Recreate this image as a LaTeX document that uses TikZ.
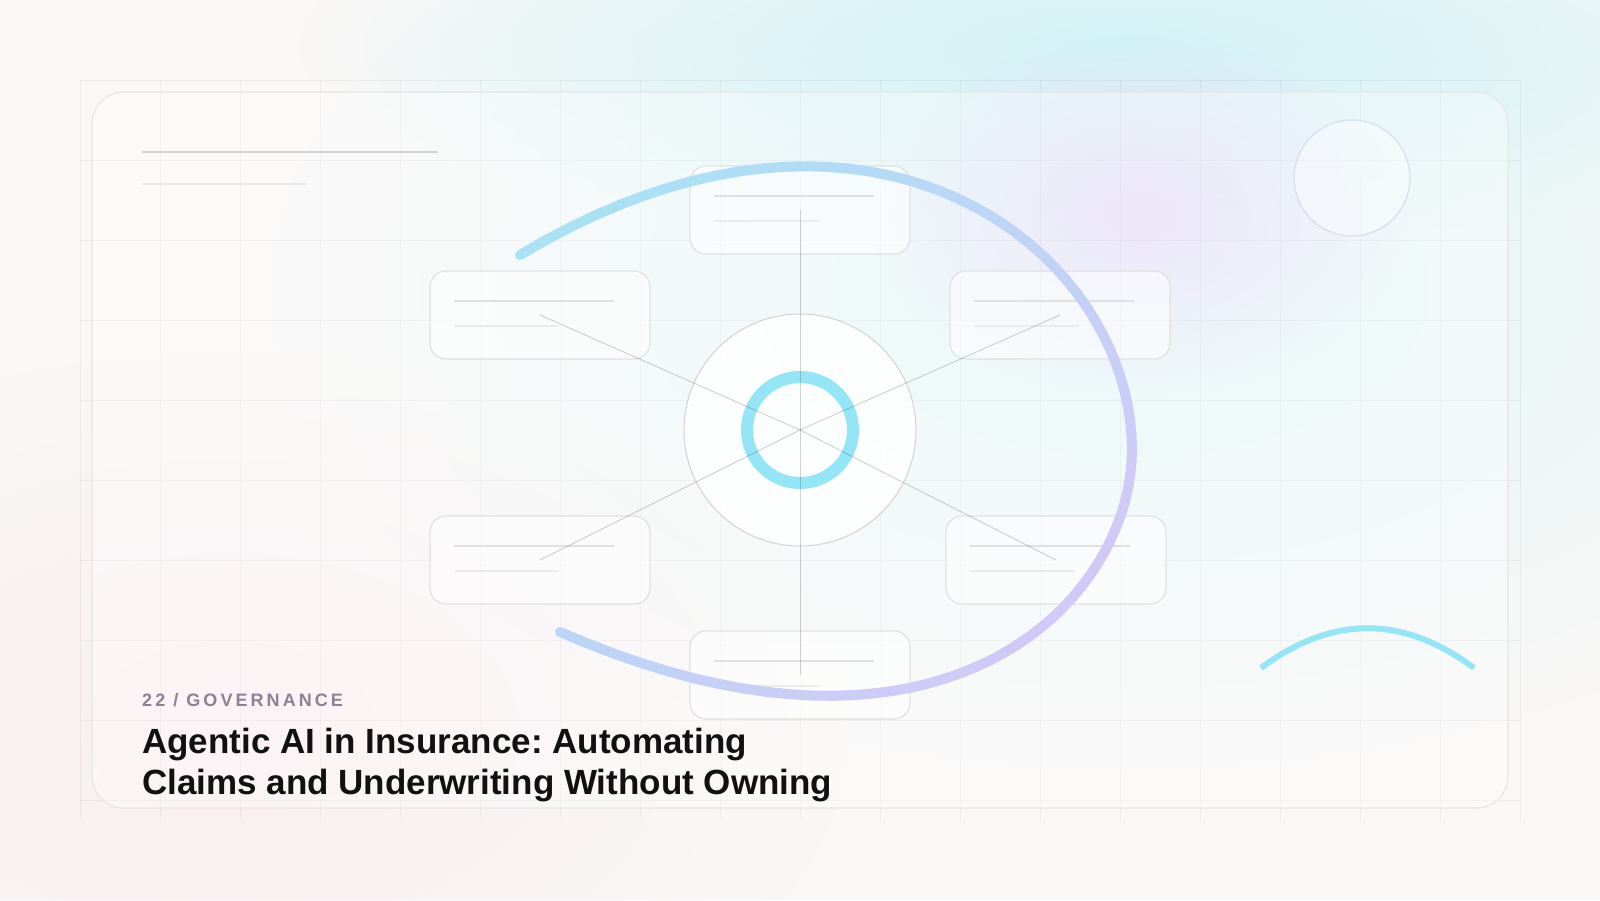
\documentclass[tikz,border=0pt]{standalone}
\usepackage{fontspec}
\setmainfont{Liberation Sans}
\usepackage{tikz}
\usetikzlibrary{fadings,positioning}

\definecolor{bgbase}{HTML}{F9F8F6}
\definecolor{blobcyan}{HTML}{D3F3F6}
\definecolor{blobcyanlight}{HTML}{E2F6F7}
\definecolor{bloblav}{HTML}{E5DAF7}
\definecolor{blobpink}{HTML}{F9E9EE}
\definecolor{cardline}{HTML}{E6E6E6}
\definecolor{panelline}{HTML}{E1E1E1}
\definecolor{barone}{HTML}{E0E0E0}
\definecolor{bartwo}{HTML}{EBEBEB}
\definecolor{hubline}{HTML}{D3D3D3}
\definecolor{ringcyan}{HTML}{94E6F7}
\definecolor{arccyan}{HTML}{A6E3F5}
\definecolor{arclav}{HTML}{D2C8F8}
\definecolor{orbline}{HTML}{DCDCEA}
\definecolor{kickergray}{HTML}{8A8395}
\definecolor{titleink}{HTML}{111111}

\tikzfading[name=softblob, inner color=transparent!0, outer color=transparent!100]

\newcommand{\panelbars}[1]{%
  \draw[barlong] ([xshift=24pt,yshift=-30pt]#1.north west) -- ++(160,0);
  \draw[barshort] ([xshift=24pt,yshift=-55pt]#1.north west) -- ++(105,0);
}

\frenchspacing
\begin{document}
\begin{tikzpicture}[x=1pt, y=-1pt,
    gridline/.style = {draw=black, draw opacity=0.045, line width=1pt},
    panel/.style = {draw=panelline, line width=1.2pt, fill=white, fill opacity=0.55, rounded corners=16pt, minimum width=220pt, minimum height=88pt, inner sep=0pt, outer sep=0pt},
    barlong/.style = {draw=barone, line width=2pt},
    barshort/.style = {draw=bartwo, line width=2pt},
    spoke/.style = {draw=black, draw opacity=0.17, line width=1pt},
    bigarc/.style = {line width=10pt, line cap=round, draw opacity=0.92},
    kicker/.style = {inner sep=0pt, text=kickergray, font=\bfseries\fontsize{18}{22}\selectfont\addfontfeature{LetterSpace=17}},
    headline/.style = {inner sep=0pt, text=titleink, font=\bfseries\fontsize{35}{42}\selectfont}]
    \useasboundingbox (0,0) rectangle (1600,900);
    \fill[bgbase] (0,0) rectangle (1600,900);

    \begin{scope}
        \clip (0,0) rectangle (1600,900);
        \fill[blobcyanlight, path fading=softblob] (1130,290) ellipse [x radius=860, y radius=480];
        \fill[blobcyan, path fading=softblob] (1120,45) ellipse [x radius=820, y radius=200];
        \fill[bloblav, path fading=softblob] (1140,215) ellipse [x radius=270, y radius=180];
        \fill[blobpink, path fading=softblob, fill opacity=0.7] (230,730) ellipse [x radius=620, y radius=380];
    \end{scope}

    \foreach \x in {80,160,...,1520} \draw[gridline] (\x,80) -- (\x,820);
    \foreach \y in {80,160,...,800} \draw[gridline] (80,\y) -- (1520,\y);

    \draw[draw=cardline, line width=1.2pt, fill=white, fill opacity=0.35, rounded corners=32pt] (92,92) rectangle (1508,808);

    \draw[draw=black!17, line width=2pt] (142,152) -- (438,152);
    \draw[draw=black!9, line width=2pt] (142,184) -- (306,184);

    \node[panel] (p_1) at (800,210) {};
    \node[panel] (p_2) at (1060,315) {};
    \node[panel] (p_3) at (1056,560) {};
    \node[panel] (p_4) at (800,675) {};
    \node[panel] (p_5) at (540,560) {};
    \node[panel] (p_6) at (540,315) {};
    \foreach \p in {p_1,p_2,p_3,p_4,p_5,p_6} {\panelbars{\p}}

    \foreach \ax/\ay/\bx/\by/\cx/\cy/\qx/\qy in {520/255/871/44/1132/250/1132/450, 1132/450/1132/600/945/800/560/632} {
        \foreach \i in {0,...,39} {
            \pgfmathsetmacro{\ta}{\i/40}
            \pgfmathsetmacro{\tb}{(\i+1)/40}
            \pgfmathsetmacro{\xa}{(1-\ta)^3*\ax + 3*(1-\ta)^2*\ta*\bx + 3*(1-\ta)*\ta^2*\cx + \ta^3*\qx}
            \pgfmathsetmacro{\ya}{(1-\ta)^3*\ay + 3*(1-\ta)^2*\ta*\by + 3*(1-\ta)*\ta^2*\cy + \ta^3*\qy}
            \pgfmathsetmacro{\xb}{(1-\tb)^3*\ax + 3*(1-\tb)^2*\tb*\bx + 3*(1-\tb)*\tb^2*\cx + \tb^3*\qx}
            \pgfmathsetmacro{\yb}{(1-\tb)^3*\ay + 3*(1-\tb)^2*\tb*\by + 3*(1-\tb)*\tb^2*\cy + \tb^3*\qy}
            \pgfmathsetmacro{\mix}{max(0,min(100,((\xa+\xb)/2-520)*0.1+((\ya+\yb)/2-200)*0.104))}
            \draw[bigarc, color=arclav!\mix!arccyan, draw opacity=1] (\xa,\ya) -- (\xb,\yb);
        }
    }

    \node[draw=hubline, line width=1pt, fill=white, fill opacity=0.85, circle, minimum size=232pt, inner sep=0pt] (hub) at (800,430) {};
    \node[draw=ringcyan, line width=12pt, circle, minimum size=106pt, inner sep=0pt] (core) at (hub.center) {};

    \foreach \p in {p_1,p_2,p_3,p_4,p_5,p_6} \draw[spoke] (hub.center) -- (\p.center);

    \draw[draw=ringcyan, line width=6pt] (1261,668) .. controls (1332,615) and (1403,615) .. (1474,668);

    \node[draw=orbline, line width=1.2pt, fill=white, fill opacity=0.4, circle, minimum size=116pt, inner sep=0pt] (orb) at (1352,178) {};

    \node[kicker, anchor=base west] (kicker) at (142,706) {22 / GOVERNANCE};
    \node[headline, anchor=base west] (title_a) at (142,753) {Agentic AI in Insurance: Automating};
    \node[headline, anchor=base west] (title_b) at (142,794) {Claims and Underwriting Without Owning};
\end{tikzpicture}
\end{document}
